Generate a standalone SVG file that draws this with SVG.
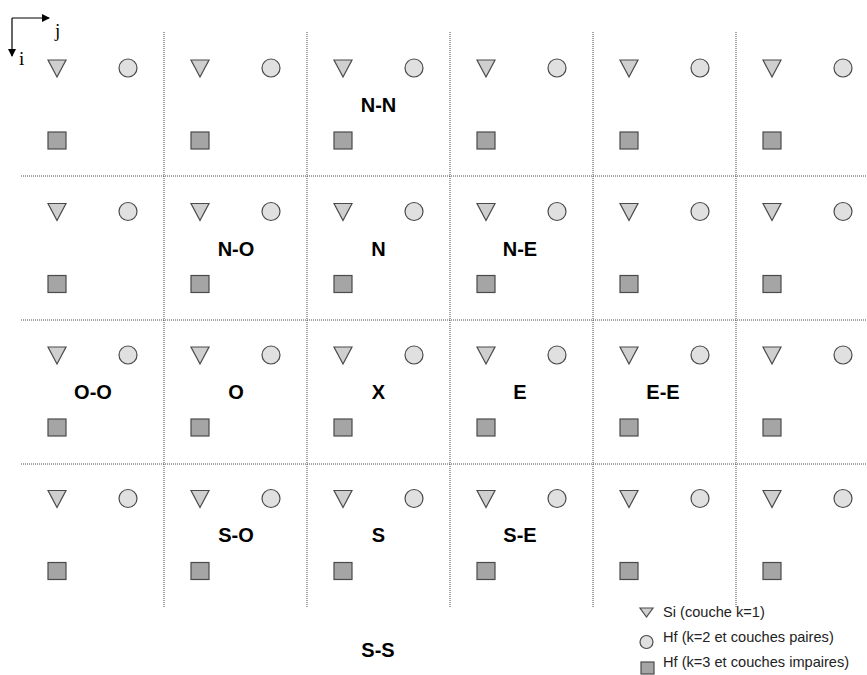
<svg xmlns="http://www.w3.org/2000/svg" xmlns:xlink="http://www.w3.org/1999/xlink" width="867" height="675" viewBox="0 0 867 675">
<style>
.grid{stroke:#4a4a4a;stroke-width:1;stroke-dasharray:1 1;fill:none}
.tri{fill:#cfcfcf;stroke:#4a4a4a;stroke-width:1.2}
.cir{fill:#e0e0e0;stroke:#4a4a4a;stroke-width:1.2}
.sq{fill:#a5a5a5;stroke:#4a4a4a;stroke-width:1.2}
.lbl{font-family:"Liberation Sans",Arial,sans-serif;font-weight:bold;font-size:20px;fill:#000;text-anchor:middle}
.leg{font-family:"Liberation Sans",Arial,sans-serif;font-size:14.6px;fill:#222}
.ax{font-family:"Liberation Serif","Times New Roman",serif;font-size:19px;fill:#000}
</style>
<defs>
<g id="cell">
<polygon class="tri" points="48,60 66,60 57,77"/>
<circle class="cir" cx="128" cy="68" r="9"/>
<rect class="sq" x="48" y="132" width="18" height="17"/>
</g>
<marker id="arr" markerWidth="8" markerHeight="8" refX="7" refY="4" orient="auto" markerUnits="userSpaceOnUse">
<path d="M0,0 L8,4 L0,8 z" fill="#000"/>
</marker>
</defs>
<g id="connectors">
<line class="grid" x1="164" y1="32" x2="164" y2="607"/>
<line class="grid" x1="307" y1="32" x2="307" y2="607"/>
<line class="grid" x1="450" y1="32" x2="450" y2="607"/>
<line class="grid" x1="593" y1="32" x2="593" y2="607"/>
<line class="grid" x1="736" y1="32" x2="736" y2="607"/>
<line class="grid" x1="21" y1="176" x2="867" y2="176"/>
<line class="grid" x1="21" y1="320" x2="867" y2="320"/>
<line class="grid" x1="21" y1="464" x2="867" y2="464"/>
</g>
<g id="axes">
<line x1="12" y1="18" x2="49" y2="18" stroke="#000" stroke-width="1.2" marker-end="url(#arr)"/>
<line x1="12" y1="18" x2="12" y2="56" stroke="#000" stroke-width="1.2" marker-end="url(#arr)"/>
<text class="ax" x="55" y="37">j</text>
<text class="ax" x="19" y="65">i</text>
</g>
<g id="row1">
<use xlink:href="#cell" transform="translate(0,0)"/>
<use xlink:href="#cell" transform="translate(143,0)"/>
<use xlink:href="#cell" transform="translate(286,0)"/>
<use xlink:href="#cell" transform="translate(429,0)"/>
<use xlink:href="#cell" transform="translate(572,0)"/>
<use xlink:href="#cell" transform="translate(715,0)"/>
</g>
<g id="row2">
<use xlink:href="#cell" transform="translate(0,143.5)"/>
<use xlink:href="#cell" transform="translate(143,143.5)"/>
<use xlink:href="#cell" transform="translate(286,143.5)"/>
<use xlink:href="#cell" transform="translate(429,143.5)"/>
<use xlink:href="#cell" transform="translate(572,143.5)"/>
<use xlink:href="#cell" transform="translate(715,143.5)"/>
</g>
<g id="row3">
<use xlink:href="#cell" transform="translate(0,287)"/>
<use xlink:href="#cell" transform="translate(143,287)"/>
<use xlink:href="#cell" transform="translate(286,287)"/>
<use xlink:href="#cell" transform="translate(429,287)"/>
<use xlink:href="#cell" transform="translate(572,287)"/>
<use xlink:href="#cell" transform="translate(715,287)"/>
</g>
<g id="row4">
<use xlink:href="#cell" transform="translate(0,430.5)"/>
<use xlink:href="#cell" transform="translate(143,430.5)"/>
<use xlink:href="#cell" transform="translate(286,430.5)"/>
<use xlink:href="#cell" transform="translate(429,430.5)"/>
<use xlink:href="#cell" transform="translate(572,430.5)"/>
<use xlink:href="#cell" transform="translate(715,430.5)"/>
</g>
<g id="labels">
<text class="lbl" x="378.5" y="112">N-N</text>
<text class="lbl" x="236" y="255.5">N-O</text>
<text class="lbl" x="378.5" y="255.5">N</text>
<text class="lbl" x="520" y="255.5">N-E</text>
<text class="lbl" x="93" y="398.5">O-O</text>
<text class="lbl" x="236" y="398.5">O</text>
<text class="lbl" x="378.5" y="398.5">X</text>
<text class="lbl" x="520" y="398.5">E</text>
<text class="lbl" x="663" y="398.5">E-E</text>
<text class="lbl" x="236" y="542">S-O</text>
<text class="lbl" x="378.5" y="542">S</text>
<text class="lbl" x="520" y="542">S-E</text>
<text class="lbl" x="378" y="657">S-S</text>
</g>
<g id="legend">
<polygon class="tri" points="640,608 653,608 646.5,617"/>
<text class="leg" x="663" y="617">Si (couche k=1)</text>
<circle class="cir" cx="646.5" cy="642" r="6.5"/>
<text class="leg" x="663" y="642">Hf (k=2 et couches paires)</text>
<rect class="sq" x="641" y="662" width="13" height="12"/>
<text class="leg" x="663" y="667">Hf (k=3 et couches impaires)</text>
</g>
</svg>
